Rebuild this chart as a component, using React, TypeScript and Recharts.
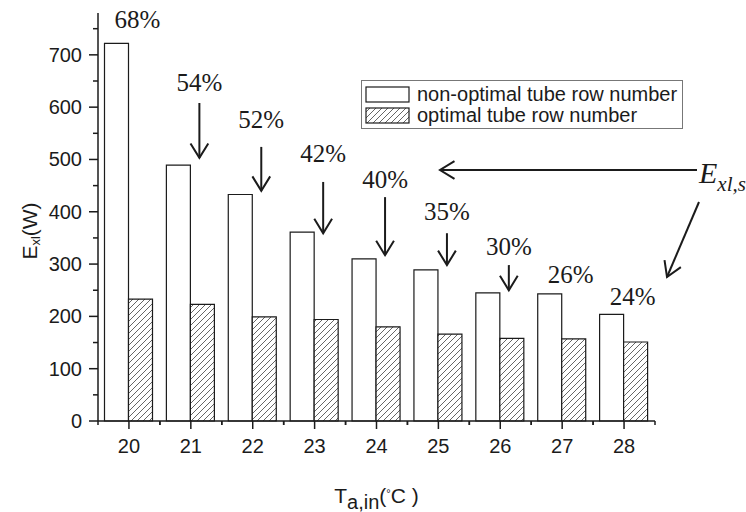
import React from "react";
import { BarChart, Bar, XAxis, YAxis, Legend, LabelList, Label } from "recharts";

// inlet air temperature (°C)
const temps = ["20", "21", "22", "23", "24", "25", "26", "27", "28"];
// exergy loss E_xl (W)
const nonOptimal = [722, 489, 433, 361, 310, 289, 245, 243, 204];
const optimal = [233, 223, 199, 194, 180, 166, 158, 157, 151];
// reduction percentages written above each group
const savings = ["68%", "54%", "52%", "42%", "40%", "35%", "30%", "26%", "24%"];
// where the percentage text sits and where its arrow runs (in W units)
const labelLevel = [767, 646, 576, 511, 461, 400, 333, 279, 237];
const arrowFrom = [null, 608, 524, 457, 428, 359, 298, null, null];
const arrowTo = [null, 503, 440, 359, 317, 298, 250, null, null];

const yTicks = [0, 50, 100, 150, 200, 250, 300, 350, 400, 450, 500, 550, 600, 650, 700, 750];

const CHART_W = 746;
const CHART_H = 512;
const LEFT = 98;
const RIGHT = 91;
const BAND = (CHART_W - LEFT - RIGHT) / temps.length;

const SANS = "'Liberation Sans', Arial, sans-serif";
const SERIF = "'Liberation Serif', 'Times New Roman', serif";
const INK = "#1b1b1b";

const data = temps.map((t, i) => ({ t, nonOpt: nonOptimal[i], opt: optimal[i] }));

function Arrow({ x1, y1, x2, y2 }: { x1: number; y1: number; x2: number; y2: number }) {
  const a = Math.atan2(y2 - y1, x2 - x1);
  const head = 17;
  const half = 0.55;
  const p1 = `${x2 - head * Math.cos(a - half)},${y2 - head * Math.sin(a - half)}`;
  const p2 = `${x2 - head * Math.cos(a + half)},${y2 - head * Math.sin(a + half)}`;
  return (
    <g stroke={INK} strokeWidth={2} fill="none">
      <line x1={x1} y1={y1} x2={x2} y2={y2} />
      <polyline points={`${p1} ${x2},${y2} ${p2}`} />
    </g>
  );
}

const YTick = (props: any) => {
  const { x, y, payload } = props;
  const v = payload.value;
  const major = v % 100 === 0;
  return (
    <g>
      <line x1={x} x2={x - (major ? 9 : 5)} y1={y} y2={y} stroke={INK} strokeWidth={1.5} />
      {major && (
        <text x={x - 16} y={y + 7} textAnchor="end" fontFamily={SANS} fontSize={20} fill={INK}>
          {v}
        </text>
      )}
    </g>
  );
};

const XTick = (props: any) => {
  const { x, y, payload } = props;
  return (
    <g stroke={INK} strokeWidth={1.5}>
      <line x1={x} x2={x} y1={y} y2={y + 8} />
      <line x1={x - BAND / 2} x2={x - BAND / 2} y1={y} y2={y + 4} />
      <line x1={x + BAND / 2} x2={x + BAND / 2} y1={y} y2={y + 4} />
      <text x={x} y={y + 32} textAnchor="middle" fontFamily={SANS} fontSize={20} fill={INK} stroke="none">
        {payload.value}
      </text>
    </g>
  );
};

const renderPct = (props: any) => {
  const { x, y, width, height, index } = props;
  const base = Number(y) + Number(height);
  const k = Number(height) / nonOptimal[index];
  const cx = Number(x) + Number(width) + 9;
  const from = arrowFrom[index];
  const to = arrowTo[index];
  return (
    <g>
      <text x={cx} y={base - labelLevel[index] * k + 8} textAnchor="middle" fontFamily={SERIF} fontSize={25} fill={INK}>
        {savings[index]}
      </text>
      {from !== null && to !== null && (
        <Arrow x1={cx} y1={base - from * k} x2={cx} y2={base - to * k} />
      )}
    </g>
  );
};

function Hatch({ id }: { id: string }) {
  return (
    <pattern id={id} patternUnits="userSpaceOnUse" width={6} height={6}>
      <rect width={6} height={6} fill="#fff" />
      <path d="M-1,1 l2,-2 M0,6 l6,-6 M5,7 l2,-2" stroke="#555" strokeWidth={0.9} />
    </pattern>
  );
}

const LegendBox = () => (
  <div
    style={{
      width: 322,
      height: 49,
      boxSizing: "border-box",
      border: "1.5px solid #777",
      background: "#fff",
      padding: "3px 3px",
      fontFamily: SANS,
      fontSize: 20,
      color: INK,
    }}
  >
    {[
      { name: "non-optimal tube row number", fill: "#fff" },
      { name: "optimal tube row number", fill: "url(#hatchLegend)" },
    ].map((it, i) => (
      <div key={i} style={{ display: "flex", alignItems: "center", height: 21 }}>
        <svg width={46} height={18} style={{ marginRight: 6 }}>
          <defs>
            <Hatch id="hatchLegend" />
          </defs>
          <rect x={1} y={1} width={43} height={15} fill={it.fill} stroke={INK} strokeWidth={1.2} />
        </svg>
        <span style={{ lineHeight: "21px" }}>{it.name}</span>
      </div>
    ))}
  </div>
);

export default function App() {
  return (
    <div style={{ position: "absolute", left: 0, top: 0, width: CHART_W, height: CHART_H, background: "#fff" }}>
      <BarChart
        width={CHART_W}
        height={CHART_H}
        data={data}
        margin={{ top: 13, right: RIGHT, left: 0, bottom: 0 }}
        barGap={0}
        barCategoryGap="10.5%"
      >
        <defs>
          <Hatch id="hatch" />
        </defs>
        <XAxis
          dataKey="t"
          height={91}
          tickSize={0}
          tickMargin={0}
          tickLine={false}
          axisLine={{ stroke: INK, strokeWidth: 1.5 }}
          tick={<XTick />}
          interval={0}
        >
          <Label
            content={(p: any) => {
              const vb = p.viewBox;
              return (
                <text
                  x={vb.x + vb.width / 2}
                  y={vb.y + 82}
                  textAnchor="middle"
                  fontFamily={SANS}
                  fontSize={21}
                  fill={INK}
                >
                  T
                  <tspan dy={6} fontSize={20}>a,in</tspan>
                  <tspan dy={-6}>(</tspan>
                  <tspan dy={-6} fontSize={11}>°</tspan>
                  <tspan dy={6}>C )</tspan>
                </text>
              );
            }}
          />
        </XAxis>
        <YAxis
          width={LEFT}
          domain={[0, 780]}
          ticks={yTicks}
          interval={0}
          tickSize={0}
          tickMargin={0}
          tickLine={false}
          axisLine={{ stroke: INK, strokeWidth: 1.5 }}
          tick={<YTick />}
        >
          <Label
            content={(p: any) => {
              const vb = p.viewBox;
              const cx = vb.x + 37;
              const cy = vb.y + vb.height / 2 + 14;
              return (
                <text
                  x={cx}
                  y={cy}
                  transform={`rotate(-90 ${cx} ${cy})`}
                  textAnchor="middle"
                  fontFamily={SANS}
                  fontSize={21}
                  fill={INK}
                >
                  E<tspan dy={3} fontSize={13}>xl</tspan>
                  <tspan dy={-3}>(W)</tspan>
                </text>
              );
            }}
          />
        </YAxis>
        <Legend
          layout="vertical"
          align="center"
          verticalAlign="middle"
          wrapperStyle={{ left: 361, top: 80, width: 322 }}
          content={() => <LegendBox />}
        />
        <Bar dataKey="nonOpt" fill="#fff" stroke={INK} strokeWidth={1.2} isAnimationActive={false}>
          <LabelList dataKey="nonOpt" content={renderPct} />
        </Bar>
        <Bar dataKey="opt" fill="url(#hatch)" stroke={INK} strokeWidth={1.2} isAnimationActive={false} />
        <g>
          <Arrow x1={697} y1={170} x2={440} y2={170} />
          <Arrow x1={699} y1={202} x2={667} y2={277} />
          <text x={699} y={183} fontFamily={SERIF} fontStyle="italic" fontSize={30} fill={INK}>
            E<tspan dy={8} fontSize={21}>xl,s</tspan>
          </text>
        </g>
      </BarChart>
    </div>
  );
}
